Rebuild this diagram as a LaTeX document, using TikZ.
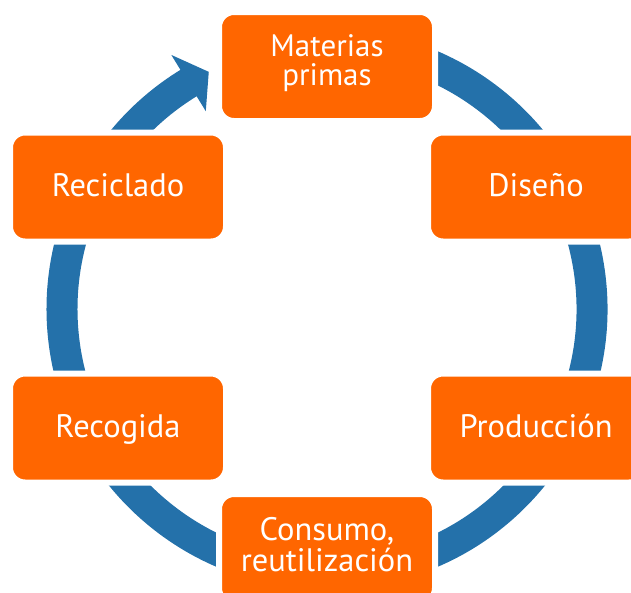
\documentclass[tikz,border=0pt]{standalone}
\usepackage{fontspec}
\setmainfont{PT Sans}
\definecolor{boxorange}{RGB}{255,102,0}
\definecolor{ringblue}{RGB}{36,113,170}
\tikzset{
  stagebox/.style={fill=boxorange, draw=white, line width=6pt, rounded corners=15pt,
    minimum width=216pt, minimum height=109pt, inner sep=0pt, text=white,
    font=\fontsize{32.5}{31}\selectfont, align=center,
    text height=22pt, text depth=3pt},
  ring/.style={draw=ringblue, line width=31pt}
}
\begin{document}
\begin{tikzpicture}[x=1pt,y=-1pt]
\useasboundingbox (0,0) rectangle (631,592);
\clip (0,0) rectangle (631,592);
\coordinate (c) at (327,309);
% ring with arrowhead (y axis up inside this scope)
\begin{scope}[shift={(c)}, y=1pt]
  \draw[ring] (100:265) arc[start angle=100, end angle=-238.8, radius=265];
  \fill[ringblue] (121.5:232) -- (116.5:265) -- (121.5:298) -- cycle;
\end{scope}
% stages
\node[stagebox, font=\fontsize{31}{28.5}\selectfont, text height=50pt, text depth=13pt] (mat) at (327,66.5) {Materias\\primas};
\node[stagebox] (dis) at (536,187) {Diseño};
\node[stagebox] (pro) at (536,428) {Producción};
\node[stagebox, text height=53.7pt, text depth=8pt] (con) at (327,548.5) {Consumo,\\reutilización};
\node[stagebox] (rec) at (118,428) {Recogida};
\node[stagebox] (rcl) at (118,187) {Reciclado};
\end{tikzpicture}
\end{document}
